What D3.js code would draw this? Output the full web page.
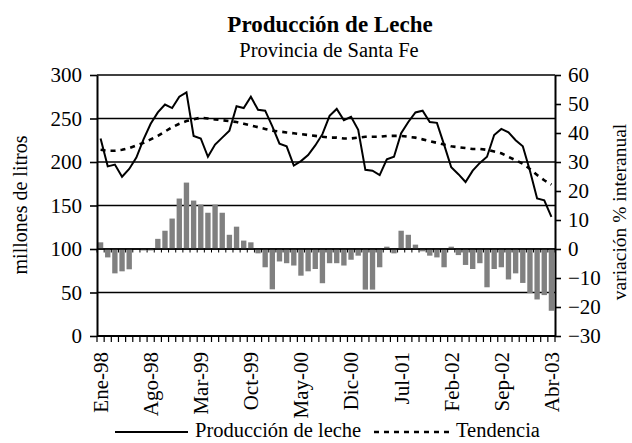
<!DOCTYPE html>
<html><head><meta charset="utf-8">
<script src="https://cdn.jsdelivr.net/npm/d3@7"></script>
<style>
html,body{margin:0;padding:0;background:#fff;}
svg{display:block;}
svg text{font-family:"Liberation Serif","Times New Roman",serif;fill:#000;}
</style></head>
<body><svg id="c" width="632" height="443"></svg>
<script>
const months = [
"Ene-98","Feb-98","Mar-98","Abr-98","May-98","Jun-98","Jul-98","Ago-98","Sep-98","Oct-98","Nov-98","Dic-98",
"Ene-99","Feb-99","Mar-99","Abr-99","May-99","Jun-99","Jul-99","Ago-99","Sep-99","Oct-99","Nov-99","Dic-99",
"Ene-00","Feb-00","Mar-00","Abr-00","May-00","Jun-00","Jul-00","Ago-00","Sep-00","Oct-00","Nov-00","Dic-00",
"Ene-01","Feb-01","Mar-01","Abr-01","May-01","Jun-01","Jul-01","Ago-01","Sep-01","Oct-01","Nov-01","Dic-01",
"Ene-02","Feb-02","Mar-02","Abr-02","May-02","Jun-02","Jul-02","Ago-02","Sep-02","Oct-02","Nov-02","Dic-02",
"Ene-03","Feb-03","Mar-03","Abr-03"];
const tickLabels = ["Ene-98","Ago-98","Mar-99","Oct-99","May-00","Dic-00","Jul-01","Feb-02","Sep-02","Abr-03"];
// millones de litros
const produccion = [227,195,197,183,192,205,226,244,257,266,262,275,
280,230,227,206,220,228,236,264,262,275,260,259,
241,221,218,196,201,208,219,232,253,261,248,252,
237,191,190,185,203,206,233,246,257,259,246,245,
220,194,186,177,190,199,206,231,238,234,225,218,
190,158,156,137];
const tendencia = [214,213,213,214,216,219,222,226,230,235,240,244,
247,249,251,250,249,248,247,246,244,242,240,238,
236,235,234,233,232,231,230,229,228,228,227,227,
228,229,229,229,230,230,230,229,228,226,224,222,
220,218,217,216,215,215,214,212,210,206,202,198,
192,185,179,174];
// variación % interanual
const variacion = [2.3,-2.9,-8.4,-7.7,-7.0,0,-0.5,-0.5,3.5,6.3,10.5,17.4,
22.9,16.7,15.3,12.5,15.3,12.5,4.9,7.7,2.9,2.3,-1.5,-6.3,
-13.9,-4.3,-4.9,-5.7,-9.2,-7.7,-6.9,-11.8,-4.9,-4.9,-5.7,-3.7,
-2.3,-14,-14,-6.3,0.8,-1.5,6.3,4.9,1.5,-0.8,-2.3,-2.9,
-6.3,0.8,-2.1,-5.5,-6.9,-4.9,-13.2,-6.9,-6.3,-10.5,-8.4,-11.7,
-15.2,-17.4,-15.9,-21.3];
const leftTicks = [0,50,100,150,200,250,300];
const rightTicks = [-30,-20,-10,0,10,20,30,40,50,60];

const svg = d3.select("#c");
const L = 97, R = 555, T = 75, B = 336;
const FS = 21;
const SERIF = '"Liberation Serif","Times New Roman",serif';

const x = d3.scaleBand().domain(months).range([L, R]).paddingInner(0.25).paddingOuter(0.125);
const yL = d3.scaleLinear().domain([0, 300]).range([B, T]);
const yR = d3.scaleLinear().domain([-30, 60]).range([B, T]);
const cx = d => x(d) + x.bandwidth() / 2;
const boundaries = months.map(m => x(m) - x.step() * x.paddingInner() / 2).concat([R]);

// gridlines
svg.append("g").selectAll("line").data(leftTicks.filter(v => v > 0)).join("line")
  .attr("x1", L).attr("x2", R).attr("y1", d => yL(d)).attr("y2", d => yL(d))
  .attr("stroke", "#000").attr("stroke-width", 1.6);

// bars
svg.append("g").selectAll("rect").data(variacion).join("rect")
  .attr("x", (d, i) => x(months[i]))
  .attr("width", x.bandwidth())
  .attr("y", d => yR(Math.max(0, d)))
  .attr("height", d => Math.abs(yR(d) - yR(0)))
  .attr("fill", "#808080");

// secondary category axis at 0%
const z = yR(0);
svg.append("line").attr("x1", L).attr("x2", R).attr("y1", z).attr("y2", z)
  .attr("stroke", "#000").attr("stroke-width", 1.6);
svg.append("g").selectAll("line").data(boundaries).join("line")
  .attr("x1", d => d).attr("x2", d => d).attr("y1", z).attr("y2", z + 3.5)
  .attr("stroke", "#000").attr("stroke-width", 1);

// trend
svg.append("path").datum(tendencia)
  .attr("fill", "none").attr("stroke", "#000").attr("stroke-width", 2.6)
  .attr("stroke-dasharray", "5,5")
  .attr("d", d3.line().x((d, i) => cx(months[i])).y(d => yL(d)));

// production line
svg.append("path").datum(produccion)
  .attr("fill", "none").attr("stroke", "#000").attr("stroke-width", 2)
  .attr("d", d3.line().x((d, i) => cx(months[i])).y(d => yL(d)));

function styleAxis(g) {
  g.attr("font-family", SERIF);
  g.select(".domain").attr("stroke-width", 2);
  g.selectAll(".tick line").attr("stroke-width", 1.6);
  g.selectAll("text").attr("font-size", FS).style("font-family", SERIF).attr("fill", "#000");
}

// left axis
const gl = svg.append("g").attr("transform", `translate(${L},0)`)
  .call(d3.axisLeft(yL).tickValues(leftTicks).tickSize(7).tickSizeOuter(0).tickPadding(8));
styleAxis(gl);

// right axis
const gr = svg.append("g").attr("transform", `translate(${R},0)`)
  .call(d3.axisRight(yR).tickValues(rightTicks).tickSize(6).tickSizeOuter(0).tickPadding(7));
styleAxis(gr);

// bottom axis
svg.append("line").attr("x1", L).attr("x2", R).attr("y1", B).attr("y2", B)
  .attr("stroke", "#000").attr("stroke-width", 2);
svg.append("g").selectAll("line").data(boundaries).join("line")
  .attr("x1", d => d).attr("x2", d => d).attr("y1", B).attr("y2", B + 6)
  .attr("stroke", "#000").attr("stroke-width", 1.2);
const gb = svg.append("g").attr("transform", `translate(0,${B})`)
  .call(d3.axisBottom(x).tickValues(tickLabels).tickSize(0).tickSizeOuter(0));
gb.select(".domain").remove();
gb.attr("font-family", SERIF);
gb.selectAll("text")
  .attr("font-size", FS).style("font-family", SERIF).attr("fill", "#000")
  .attr("text-anchor", "end")
  .attr("transform", "rotate(-90)")
  .attr("x", -16).attr("y", 0).attr("dy", "0.35em");

// titles
svg.append("text").attr("x", 330).attr("y", 32).attr("text-anchor", "middle")
  .attr("font-size", 23).attr("font-weight", "bold").text("Producción de Leche");
svg.append("text").attr("x", 329).attr("y", 57).attr("text-anchor", "middle")
  .attr("font-size", 20.5).text("Provincia de Santa Fe");
svg.append("text").attr("transform", "translate(27,205) rotate(-90)").attr("text-anchor", "middle")
  .attr("font-size", 20).text("millones de litros");
svg.append("text").attr("transform", "translate(626,212) rotate(-90)").attr("text-anchor", "middle")
  .attr("font-size", 19.5).text("variación % interanual");

// legend
const lg = svg.append("g");
lg.append("line").attr("x1", 115).attr("x2", 188).attr("y1", 432).attr("y2", 432)
  .attr("stroke", "#000").attr("stroke-width", 2);
lg.append("text").attr("x", 195).attr("y", 437).attr("font-size", 20.5).text("Producción de leche");
lg.append("line").attr("x1", 374).attr("x2", 449).attr("y1", 432).attr("y2", 432)
  .attr("stroke", "#000").attr("stroke-width", 2.6).attr("stroke-dasharray", "5,5");
lg.append("text").attr("x", 456).attr("y", 437).attr("font-size", 20.5).text("Tendencia");
</script></body></html>
